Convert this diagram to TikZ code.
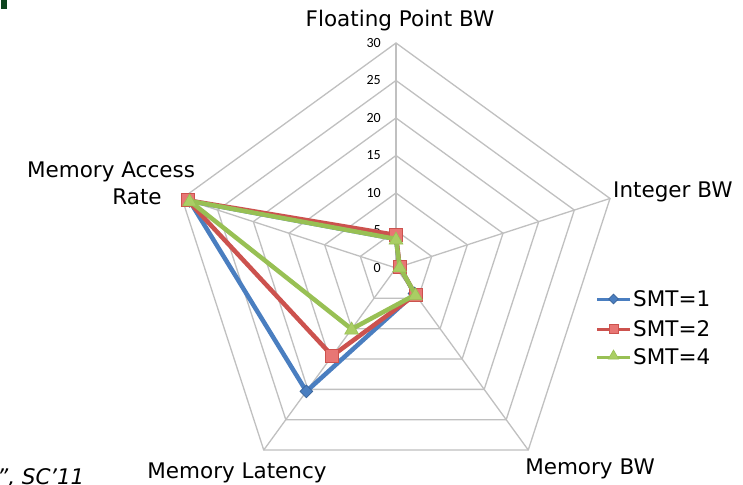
\documentclass[tikz,border=0pt]{standalone}
\usepackage{fontspec}
\setmainfont{DejaVu Sans}
\newfontfamily\tickfont{Carlito}
\usetikzlibrary{shapes.geometric}

\definecolor{gridgray}{RGB}{192,192,192}
\definecolor{sblue}{RGB}{74,126,192}
\definecolor{sred}{RGB}{204,82,78}
\definecolor{sredfill}{RGB}{232,118,116}
\definecolor{sgreen}{RGB}{152,192,84}
\definecolor{sgreenfill}{RGB}{170,206,100}
\definecolor{barGreen}{RGB}{12,68,30}

\tikzset{
  gridline/.style={draw=gridgray, line width=1.3pt},
  axislabel/.style={font=\fontsize{21.5}{26}\selectfont, inner sep=0pt, anchor=base},
  ticklabel/.style={font=\tickfont\fontsize{14}{16}\selectfont, inner sep=0pt, anchor=east},
  bluepath/.style={draw=sblue, line width=4.5pt, line join=round},
  redpath/.style={draw=sred, line width=4.5pt, line join=round},
  greenpath/.style={draw=sgreen, line width=4.5pt, line join=round},
  dmark/.style={diamond, fill=sblue, draw=sblue!80!black, line width=0.6pt, inner sep=0pt, minimum size=13pt},
  smark/.style={rectangle, fill=sredfill, draw=sred, line width=0.8pt, inner sep=0pt, minimum size=13pt},
  tmark/.style={regular polygon, regular polygon sides=3, fill=sgreenfill, draw=sgreen, line width=0.6pt, inner sep=0pt, minimum size=16pt},
  ldmark/.style={dmark, minimum size=10pt},
  lsmark/.style={smark, minimum size=9pt},
  ltmark/.style={tmark, minimum size=12pt},
  legendtext/.style={font=\fontsize{21.5}{26}\selectfont, inner sep=0pt, anchor=base west},
}

\begin{document}
\begin{tikzpicture}[x=1pt, y=-1pt]
\useasboundingbox (0,0) rectangle (743,484);
\fill[white] (0,0) rectangle (743,484);

% corner bar
\fill[barGreen] (1,0) rectangle (7,9);

\begin{scope}[shift={(396,268)}]
  \coordinate (C) at (0,0);
  % rings of the radar grid, 5 units apart
  \foreach \rr in {37.5,75,112.5,150,187.5,225}
    \draw[gridline, line join=miter] (-90:\rr) -- (-18:\rr) -- (54:\rr) -- (126:\rr) -- (198:\rr) -- cycle;
  % spokes
  \foreach \a/\n in {-90/fp,-18/ib,54/mb,126/ml,198/ma}
    \coordinate (tip\n) at (\a:225);
  \foreach \n in {fp,ib,mb,ml,ma}
    \draw[gridline] (C) -- (tip\n);

  % SMT=1
  \coordinate (b1) at (-90:29);
  \coordinate (b2) at (-18:3.8);
  \coordinate (b3) at (54:31.5);
  \coordinate (b4) at (126:152.5);
  \coordinate (b5) at (198:217);
  % SMT=2
  \coordinate (r1) at (-90:33);
  \coordinate (r2) at (-18:3.8);
  \coordinate (r3) at (54:33);
  \coordinate (r4) at (126:108.5);
  \coordinate (r5) at (198:219);
  % SMT=4
  \coordinate (g1) at (-90:29);
  \coordinate (g2) at (-18:3.8);
  \coordinate (g3) at (54:33);
  \coordinate (g4) at (126:75.5);
  \coordinate (g5) at (198:217);
\end{scope}

% tick labels
\foreach \v [count=\i from 0] in {0,5,10,15,20,25,30}
  \node[ticklabel] (tick\v) at (381,{268-37.5*\i}) {\v};

% series
\draw[bluepath] (b1) -- (b2) -- (b3) -- (b4) -- (b5) -- cycle;
\foreach \k in {1,...,5} \node[dmark] (bm\k) at (b\k) {};
\draw[redpath] (r1) -- (r2) -- (r3) -- (r4) -- (r5) -- cycle;
\foreach \k in {1,...,5} \node[smark] (rm\k) at (r\k) {};
\draw[greenpath] (g1) -- (g2) -- (g3) -- (g4) -- (g5) -- cycle;
\foreach \k in {1,...,5} \node[tmark, yshift=-1pt] (gm\k) at (g\k) {};

% axis labels
\node[axislabel] (lfp) at (400,27) {Floating Point BW};
\node[axislabel, anchor=base west] (lib) at (613,197) {Integer BW};
\node[axislabel] (lmb) at (590,474) {Memory BW};
\node[axislabel] (lml) at (237,478) {Memory Latency};
\node[axislabel] (lma1) at (111,177) {Memory Access};
\node[axislabel] (lma2) at (137,204) {Rate};

% legend
\coordinate (la1) at (597,299); \coordinate (lb1) at (630,299);
\coordinate (la2) at (597,329); \coordinate (lb2) at (630,329);
\coordinate (la3) at (597,357); \coordinate (lb3) at (630,357);
\draw[draw=sblue, line width=3pt] (la1) -- (lb1);
\node[ldmark] (lgm1) at (613.5,299) {};
\draw[draw=sred, line width=3pt] (la2) -- (lb2);
\node[lsmark] (lgm2) at (613.5,329) {};
\draw[draw=sgreen, line width=3pt] (la3) -- (lb3);
\node[ltmark] (lgm3) at (613.5,356) {};
\node[legendtext] (lt1) at (633,306.5) {SMT=1};
\node[legendtext] (lt2) at (633,336.5) {SMT=2};
\node[legendtext] (lt3) at (633,364.5) {SMT=4};

% caption fragment
\node[axislabel, anchor=base west, font=\itshape\fontsize{21.5}{26}\selectfont] (cap) at (-3,484) {”, SC’11};
\end{tikzpicture}
\end{document}
